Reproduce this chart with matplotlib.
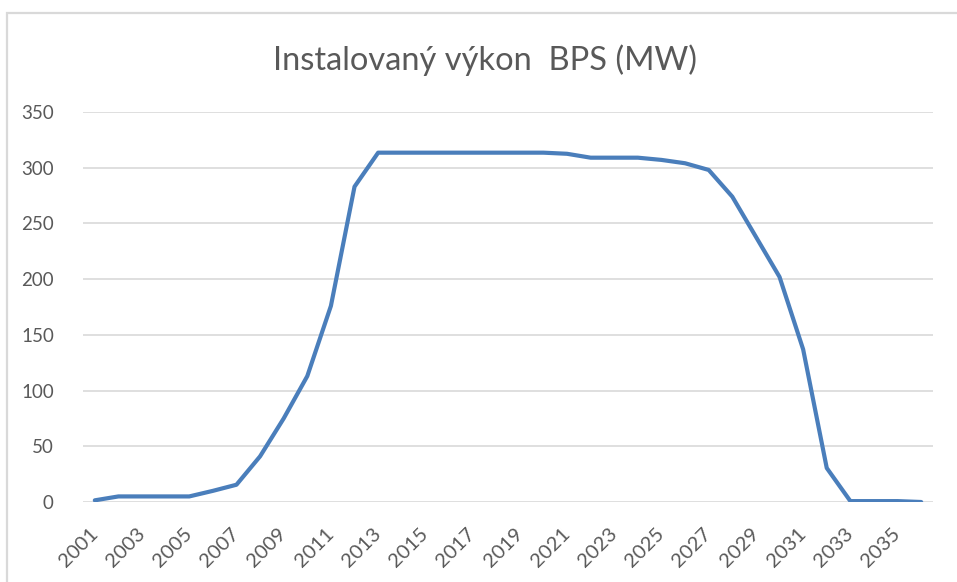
import matplotlib
matplotlib.use("Agg")
import matplotlib.pyplot as plt
from matplotlib.patches import Rectangle

# Instalovaný výkon bioplynových stanic (MW), roky 2001-2036
roky = list(range(2001, 2037))
vykon_mw = [
    1.5, 5, 5, 5, 5, 10, 15.5, 41, 75, 113,
    176, 283, 313.5, 313.5, 313.5, 313.5, 313.5, 313.5, 313.5, 313.5,
    312.5, 309, 309, 309, 307, 304, 298, 274, 238, 202,
    137, 30.5, 0.8, 0.8, 0.8, 0,
]
y_ticky = [0, 50, 100, 150, 200, 250, 300, 350]

TEXT_COLOR = "#595959"
GRID_COLOR = "#D9D9D9"
LINE_COLOR = "#4A7EBB"

plt.rcParams["font.family"] = ["Lato", "DejaVu Sans"]

fig = plt.figure(figsize=(9.57, 5.82), dpi=100)
W, H = 957, 582

# rámeček oblasti grafu
fig.patches.append(Rectangle((7 / W, -0.1), 2.0, 1 - 13 / H + 0.1,
                             transform=fig.transFigure, fill=False,
                             edgecolor=GRID_COLOR, linewidth=1.6))

ax = fig.add_axes([83 / W, 80 / H, 850 / W, 390 / H])
x = list(range(len(roky)))
ax.plot(x, vykon_mw, color=LINE_COLOR, linewidth=3.0,
        solid_joinstyle="round", solid_capstyle="round", zorder=3)

ax.set_xlim(-0.5, len(roky) - 0.5)
ax.set_ylim(0, 350)
ax.set_yticks(y_ticky)
ax.set_yticklabels([str(v) for v in y_ticky], fontsize=13.5, color=TEXT_COLOR)
ax.yaxis.grid(True, color=GRID_COLOR, linewidth=1.2)
ax.set_axisbelow(True)

ax.set_xticks(x[::2])
ax.set_xticklabels([str(r) for r in roky[::2]], fontsize=14.5, color=TEXT_COLOR,
                   rotation=45, ha="right", va="center", rotation_mode="anchor")
ax.tick_params(axis="x", length=0, pad=21)
ax.tick_params(axis="y", length=0, pad=21)

for s in ax.spines.values():
    s.set_visible(False)

fig.text(485 / W, 1 - 60 / H, "Instalovaný výkon  BPS (MW)", ha="center", va="center",
         fontsize=23.5, color=TEXT_COLOR)

fig.savefig("out.png", dpi=100)
